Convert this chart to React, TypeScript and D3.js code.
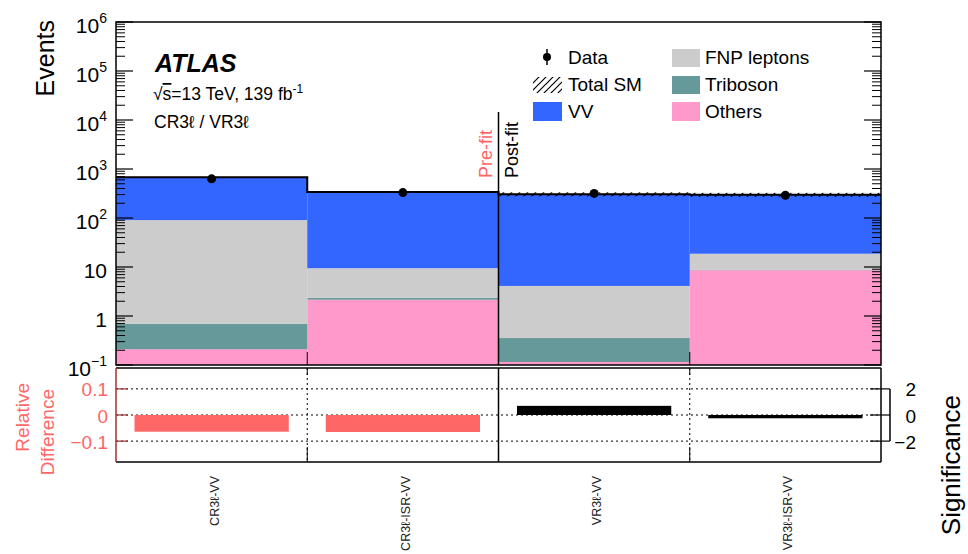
import React from "react";
import * as d3 from "d3";

const categories = ["CR3ℓ-VV", "CR3ℓ-ISR-VV", "VR3ℓ-VV", "VR3ℓ-ISR-VV"];
const others = [0.21, 2.15, 0.115, 8.6];
const triboson = [0.48, 0.2, 0.24, 0.15];
const fnp = [90, 7.1, 3.75, 9.9];
const vv = [585, 331, 300, 278];
const dataVals = [630, 330, 318, 290];
const totalUnc = [0, 0, 0.1, 0.1];
const relDiff = [-0.064, -0.065, null, null];
const significance = [null, null, 0.7, -0.25];
const decadeTicks = [-1, 0, 1, 2, 3, 4, 5, 6];
const relTicks = [0.1, 0, -0.1];
const sigTicks = [2, 0, -2];

const FONT = "'Liberation Sans', Arial, Helvetica, sans-serif";
const COLORS = {
  vv: "#3366ff",
  fnp: "#cccccc",
  tri: "#669999",
  oth: "#ff99cc",
  red: "#ff6666",
};

export default function App() {
  const W = 968, H = 554;
  const L = 116, R = 881, T = 22, B = 365;
  const LT = 368, LB = 462;
  const x = d3.scaleLinear().domain([0, 4]).range([L, R]);
  const y = d3.scaleLog().domain([0.1, 1e6]).range([B, T]);
  const yr = d3.scaleLinear().domain([-0.18, 0.18]).range([LB, LT]);
  const ys = d3.scaleLinear().domain([-3.6, 3.6]).range([LB, LT]);

  const layers = [
    { key: "oth", vals: others, color: COLORS.oth },
    { key: "tri", vals: triboson, color: COLORS.tri },
    { key: "fnp", vals: fnp, color: COLORS.fnp },
    { key: "vv", vals: vv, color: COLORS.vv },
  ];
  const cum: number[][] = [];
  const run = categories.map(() => 0);
  layers.forEach((l) => {
    const row: number[] = [];
    l.vals.forEach((v, i) => {
      run[i] += v;
      row.push(run[i]);
    });
    cum.push(row);
  });
  const totals = run.slice();

  const stepPts: [number, number][] = totals.map((t, i) => [i, t]);
  stepPts.push([4, totals[3]]);
  const stepLine = d3
    .line<[number, number]>()
    .x((d) => x(d[0]))
    .y((d) => y(d[1]))
    .curve(d3.curveStepAfter);

  const minor: number[] = [];
  for (let d = -1; d < 6; d++) for (let k = 2; k <= 9; k++) minor.push(k * Math.pow(10, d));

  const expLabel = (d: number) => {
    if (d === 0) return { base: "1", sup: "" };
    if (d === 1) return { base: "10", sup: "" };
    return { base: "10", sup: d < 0 ? "−" + Math.abs(d) : String(d) };
  };

  const bw = x(1) - x(0);
  const inset = 18.5;

  return (
    <svg width={W} height={H} style={{ position: "absolute", left: 0, top: 0, background: "#fff" }} fontFamily={FONT}>
      <defs>
        <pattern id="hatch" patternUnits="userSpaceOnUse" width="8" height="8">
          <path d="M0,8 L8,0 M-2,2 L2,-2 M6,10 L10,6" stroke="#000" strokeWidth="1.2" />
        </pattern>
        <pattern id="hatchLeg" patternUnits="userSpaceOnUse" width="7" height="7">
          <path d="M0,7 L7,0 M-2,2 L2,-2 M5,9 L9,5" stroke="#000" strokeWidth="1.2" />
        </pattern>
      </defs>
      <rect x={0} y={0} width={W} height={H} fill="#fff" />

      {/* stacked histograms */}
      {layers.map((l, li) =>
        categories.map((c, i) => {
          const lo = li === 0 ? 0.1 : cum[li - 1][i];
          const hi = cum[li][i];
          return (
            <rect
              key={l.key + i}
              x={x(i)}
              y={y(hi)}
              width={bw}
              height={Math.max(0, y(Math.max(lo, 0.1)) - y(hi))}
              fill={l.color}
            />
          );
        })
      )}

      {/* uncertainty band */}
      {totals.map((t, i) =>
        totalUnc[i] > 0 ? (
          <rect
            key={"unc" + i}
            x={x(i)}
            y={y(t * (1 + totalUnc[i]))}
            width={bw}
            height={y(t / (1 + totalUnc[i])) - y(t * (1 + totalUnc[i]))}
            fill="url(#hatch)"
          />
        ) : null
      )}

      {/* total line */}
      <path d={stepLine(stepPts) || ""} fill="none" stroke="#000" strokeWidth={2} />

      {/* data */}
      {dataVals.map((v, i) => {
        const cx = x(i + 0.5);
        const e = Math.sqrt(v);
        return (
          <g key={"d" + i}>
            <line x1={cx} x2={cx} y1={y(v + e)} y2={y(v - e)} stroke="#000" strokeWidth={1.5} />
            <circle cx={cx} cy={y(v)} r={4.5} fill="#000" />
          </g>
        );
      })}

      {/* pre/post-fit divider */}
      <line x1={x(2)} x2={x(2)} y1={112} y2={B} stroke="#000" strokeWidth={1.5} />
      <text transform={`translate(492,178) rotate(-90)`} fontSize={18} fill={COLORS.red}>Pre-fit</text>
      <text transform={`translate(518,178) rotate(-90)`} fontSize={18} fill="#000">Post-fit</text>

      {/* bin boundary ticks in upper */}
      {[1, 3].map((b) => (
        <line key={"bt" + b} x1={x(b)} x2={x(b)} y1={B - 13} y2={B} stroke="#000" strokeWidth={1} />
      ))}

      {/* main frame */}
      <rect x={L} y={T} width={R - L} height={B - T} fill="none" stroke="#000" strokeWidth={1.5} />

      {/* y ticks */}
      {decadeTicks.map((d) => {
        const yy = y(Math.pow(10, d));
        return (
          <g key={"M" + d}>
            <line x1={L} x2={L + 17} y1={yy} y2={yy} stroke="#000" strokeWidth={1.2} />
            <line x1={R} x2={R - 17} y1={yy} y2={yy} stroke="#000" strokeWidth={1.2} />
          </g>
        );
      })}
      {minor.map((v, k) => {
        const yy = y(v);
        return (
          <g key={"m" + k}>
            <line x1={L} x2={L + 9} y1={yy} y2={yy} stroke="#000" strokeWidth={1} />
            <line x1={R} x2={R - 9} y1={yy} y2={yy} stroke="#000" strokeWidth={1} />
          </g>
        );
      })}
      {decadeTicks.map((d) => {
        const yy = y(Math.pow(10, d));
        const lab = expLabel(d);
        return (
          <text key={"lab" + d} x={107} y={yy + 10.5} fontSize={21} textAnchor="end" fill="#000">
            {lab.base}
            {lab.sup ? (
              <tspan fontSize={14} dy={-10}>
                {lab.sup}
              </tspan>
            ) : null}
          </text>
        );
      })}
      <text transform={`translate(54,20) rotate(-90)`} fontSize={25} textAnchor="end" fill="#000">Events</text>

      {/* ATLAS labels */}
      <text x={155} y={72} fontSize={25} fontWeight="bold" fontStyle="italic" fill="#000">ATLAS</text>
      <text x={153} y={100} fontSize={17.5} fill="#000">
        √<tspan style={{ textDecoration: "overline" }}>s</tspan>=13 TeV, 139 fb
        <tspan fontSize={12} dy={-7}>-1</tspan>
      </text>
      <text x={154} y={128} fontSize={17.5} fill="#000">CR3ℓ / VR3ℓ</text>

      {/* legend */}
      <line x1={547} x2={547} y1={49} y2={65} stroke="#000" strokeWidth={1.5} />
      <circle cx={547} cy={57} r={4} fill="#000" />
      <text x={568} y={64} fontSize={19}>Data</text>
      <rect x={533} y={77} width={29} height={16} fill="url(#hatchLeg)" />
      <text x={568} y={90.5} fontSize={19}>Total SM</text>
      <rect x={533} y={102} width={29} height={19} fill={COLORS.vv} />
      <text x={568} y={118} fontSize={19}>VV</text>
      <rect x={672} y={49} width={28} height={18} fill={COLORS.fnp} />
      <text x={705} y={64} fontSize={19}>FNP leptons</text>
      <rect x={672} y={76} width={28} height={18} fill={COLORS.tri} />
      <text x={705} y={90.5} fontSize={19}>Triboson</text>
      <rect x={672} y={102} width={28} height={19} fill={COLORS.oth} />
      <text x={705} y={118} fontSize={19}>Others</text>

      {/* lower panel */}
      {relTicks.map((t) => (
        <line key={"hl" + t} x1={L} x2={R} y1={yr(t)} y2={yr(t)} stroke="#000" strokeWidth={1} strokeDasharray="2,3" />
      ))}
      {[1, 3].map((b) => (
        <g key={"vl" + b}>
          <line x1={x(b)} x2={x(b)} y1={LT} y2={LB} stroke="#000" strokeWidth={1} strokeDasharray="2,3" />
          <line x1={x(b)} x2={x(b)} y1={LT} y2={LT + 7} stroke="#000" strokeWidth={1} />
          <line x1={x(b)} x2={x(b)} y1={LB - 15} y2={LB} stroke="#000" strokeWidth={1} />
        </g>
      ))}
      <line x1={x(2)} x2={x(2)} y1={LT} y2={LB} stroke="#000" strokeWidth={1.5} />
      {relDiff.map((v, i) =>
        v === null ? null : (
          <rect
            key={"rd" + i}
            x={x(i) + inset}
            y={Math.min(yr(0), yr(v))}
            width={bw - 2 * inset}
            height={Math.abs(yr(v) - yr(0))}
            fill={COLORS.red}
          />
        )
      )}
      {significance.map((v, i) =>
        v === null ? null : (
          <rect
            key={"sg" + i}
            x={x(i) + inset}
            y={Math.min(ys(0), ys(v))}
            width={bw - 2 * inset}
            height={Math.abs(ys(v) - ys(0))}
            fill="#000"
          />
        )
      )}
      <line x1={L} x2={R} y1={LT} y2={LT} stroke="#000" strokeWidth={1.5} />
      <line x1={L} x2={R} y1={LB} y2={LB} stroke="#000" strokeWidth={1.5} />
      <line x1={R} x2={R} y1={LT} y2={LB} stroke="#000" strokeWidth={1.5} />
      <line x1={L} x2={L} y1={LT} y2={LB} stroke="#a03030" strokeWidth={1.5} />
      {relTicks.map((t) => (
        <g key={"rt" + t}>
          <line x1={L} x2={L + 12} y1={yr(t)} y2={yr(t)} stroke="#a03030" strokeWidth={1.2} />
          <text x={108} y={yr(t) + 7.5} fontSize={19} textAnchor="end" fill={COLORS.red}>
            {t === 0 ? "0" : t > 0 ? "0.1" : "−0.1"}
          </text>
        </g>
      ))}
      <text transform={`translate(29,383) rotate(-90)`} fontSize={19} textAnchor="end" fill={COLORS.red}>Relative</text>
      <text transform={`translate(54,389) rotate(-90)`} fontSize={19} textAnchor="end" fill={COLORS.red}>Difference</text>

      {/* significance axis */}
      <line x1={890} x2={890} y1={ys(2)} y2={ys(-2)} stroke="#000" strokeWidth={1.5} />
      {sigTicks.map((t) => (
        <g key={"st" + t}>
          <line x1={870} x2={890} y1={ys(t)} y2={ys(t)} stroke="#000" strokeWidth={1.2} />
          <text x={916} y={ys(t) + 7.5} fontSize={19} textAnchor="end" fill="#000">
            {t < 0 ? "−" + Math.abs(t) : String(t)}
          </text>
        </g>
      ))}
      <text transform={`translate(960,395) rotate(-90)`} fontSize={26} textAnchor="end" fill="#000">Significance</text>

      {/* category labels */}
      {categories.map((c, i) => (
        <text
          key={"cat" + i}
          transform={`translate(${x(i + 0.5) + 7},476) rotate(-90)`}
          fontSize={12.5}
          textAnchor="end"
          fill="#222"
        >
          {c}
        </text>
      ))}
    </svg>
  );
}
